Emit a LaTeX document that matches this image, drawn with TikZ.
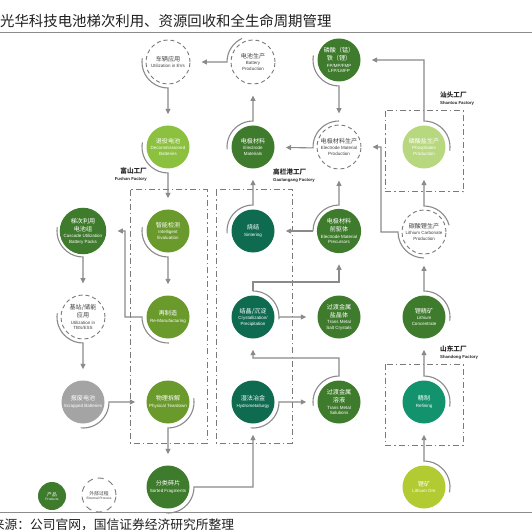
\documentclass[tikz,border=0pt]{standalone}
\usepackage{fontspec}
\setmainfont{Liberation Sans}
\newfontfamily\cjk{Noto Sans CJK SC}
\usetikzlibrary{arrows.meta,calc}
\definecolor{dg}{HTML}{3F7B2C}
\definecolor{ol}{HTML}{6B9A2C}
\definecolor{tl}{HTML}{0E6B50}
\definecolor{tr}{HTML}{12926D}
\definecolor{lg}{HTML}{8CC03F}
\definecolor{pg}{HTML}{B8D880}
\definecolor{yg}{HTML}{B3CB32}
\definecolor{gy}{HTML}{A4A4A4}
\definecolor{ln}{HTML}{8A8A8A}
\definecolor{dk}{HTML}{7A7A7A}
\newcommand{\zh}[1]{{\cjk\fontsize{6.1bp}{7bp}\selectfont #1}}
\newcommand{\en}[1]{{\fontsize{4.5bp}{5.6bp}\selectfont #1}}
\begin{document}
\begin{tikzpicture}[x=1bp,y=1bp,
  pn/.style={circle, fill=#1, text=white, minimum size=43bp, inner sep=0pt, align=center, font=\fontsize{4.5bp}{5.6bp}\selectfont},
  xn/.style={circle, draw=dk, line width=0.9bp, dash pattern=on 4bp off 3bp, fill=white, text=black!75, minimum size=44bp, inner sep=0pt, align=center, font=\fontsize{4.5bp}{5.6bp}\selectfont},
  fl/.style={draw=ln, line width=1.1bp, -{Triangle[length=5.5bp,width=5bp]}, shorten >=11bp},
  ar/.style={draw=ln, line width=1.1bp},
  fac/.style={draw=dk, line width=1bp, dash pattern=on 6bp off 3bp on 1.5bp off 3bp},
  flab/.style={inner sep=0pt, font=\fontsize{4.3bp}{6.2bp}\selectfont\bfseries, text=black!85}
]
\useasboundingbox (0,0) rectangle (532,-530);
\clip (0,0) rectangle (532,-530);
\fill[white] (0,0) rectangle (532,-530);

% title and rules
\node[anchor=west, inner sep=0pt, text=black!88] (title) at (0,-21) {\cjk\fontsize{14.4bp}{16bp}\selectfont 光华科技电池梯次利用、资源回收和全生命周期管理};
\draw[black!45, line width=0.8bp] (0,-32) -- (532,-32);
\draw[black!45, line width=0.8bp] (0,-512) -- (532,-512);
\node[anchor=west, inner sep=0pt, text=black!88] (src) at (-8.3,-525) {\cjk\fontsize{12.75bp}{14bp}\selectfont 来源：公司官网，国信证券经济研究所整理};

% factory boxes
\draw[fac] (130,-190) rectangle (207,-443);
\draw[fac] (216,-190) rectangle (292,-443);
\draw[fac] (385,-111) rectangle (463,-192);
\draw[fac] (385,-364) rectangle (463,-445);
\node[flab, anchor=north east, align=right] (lfs) at (147,-168) {{\cjk\fontsize{6.6bp}{7bp}\selectfont\bfseries 富山工厂}\\Fushan Factory};
\node[flab, anchor=north west, align=left] (lgl) at (273,-169) {{\cjk\fontsize{6.6bp}{7bp}\selectfont\bfseries 高栏港工厂}\\Gaolangang Factory};
\node[flab, anchor=north west, align=left] (lst) at (440,-92) {{\cjk\fontsize{6.6bp}{7bp}\selectfont\bfseries 汕头工厂}\\Shantou Factory};
\node[flab, anchor=north west, align=left] (lsd) at (440,-346) {{\cjk\fontsize{6.6bp}{7bp}\selectfont\bfseries 山东工厂}\\Shandong Factory};

% nodes
\node[xn] (veh) at (168,-62) {\zh{车辆应用}\\[0.8bp]Utilization in EVs};
\node[xn] (bat) at (253,-62) {\zh{电池生产}\\[0.8bp]Battery\\Production};
\node[pn=dg] (lfp) at (339,-60) {\zh{磷酸（锰）}\\[1.5bp]\zh{铁（锂）}\\[0.8bp]FP/MP/FMP\\LFP/LMFP};
\node[pn=lg] (ret) at (168,-147) {\zh{退役电池}\\[0.8bp]Decommissioned\\Batteries};
\node[pn=dg] (elm) at (253,-147) {\zh{电极材料}\\[0.8bp]Electrode\\Materials};
\node[xn] (emp) at (339,-147) {\zh{电极材料生产}\\[0.8bp]Electrode Material\\Production};
\node[pn=pg] (php) at (424,-147) {\zh{磷酸盐生产}\\[0.8bp]Phosphates\\Production};
\node[pn=dg] (cas) at (83,-231) {\zh{梯次利用}\\[1.5bp]\zh{电池组}\\[0.8bp]Cascade Utilization\\Battery Packs};
\node[pn=ol] (ie) at (168,-231) {\zh{智能检测}\\[0.8bp]Intelligent\\Evaluation};
\node[pn=tl] (sin) at (253,-231) {\zh{烧结}\\[0.8bp]Sintering};
\node[pn=dg] (pre) at (339,-231) {\zh{电极材料}\\[1.5bp]\zh{前驱体}\\[0.8bp]Electrode Material\\Precursors};
\node[xn] (lcp) at (424,-232) {\zh{碳酸锂生产}\\[0.8bp]Lithium Carbonate\\Production};
\node[xn] (tbs) at (83,-317) {\zh{基站/储能}\\[1.5bp]\zh{应用}\\[0.8bp]Utilization in\\TBS/ESS};
\node[pn=ol] (rem) at (168,-317) {\zh{再制造}\\[0.8bp]Re-Manufacturing};
\node[pn=tl] (cry) at (253,-317) {\zh{结晶/沉淀}\\[0.8bp]Crystallization/\\Precipitation};
\node[pn=dg] (tms) at (339,-317) {\zh{过渡金属}\\[1.5bp]\zh{盐晶体}\\[0.8bp]Trans Metal\\Salt Crystals};
\node[pn=dg] (lco) at (424,-317) {\zh{锂精矿}\\[0.8bp]Lithium\\Concentrate};
\node[pn=gy] (scr) at (83,-402) {\zh{报废电池}\\[0.8bp]Scrapped Batteries};
\node[pn=ol] (pht) at (168,-402) {\zh{物理拆解}\\[0.8bp]Physical Teardown};
\node[pn=tl] (hyd) at (253,-402) {\zh{湿法冶金}\\[0.8bp]Hydrometallurgy};
\node[pn=dg] (tmsol) at (339,-402) {\zh{过渡金属}\\[1.5bp]\zh{溶液}\\[0.8bp]Trans Metal\\Solutions};
\node[pn=tr] (ref) at (424,-402) {\zh{精制}\\[0.8bp]Refining};
\node[pn=dg] (sf) at (168,-487) {\zh{分类碎片}\\[0.8bp]Sorted Fragments};
\node[pn=yg] (ore) at (424,-487) {\zh{锂矿}\\[0.8bp]Lithium Ore};

% legend
\node[pn=dg, minimum size=28bp, font=\fontsize{3.3bp}{4bp}\selectfont] (lgp) at (52,-496) {{\cjk\fontsize{4.8bp}{5bp}\selectfont 产品}\\Products};
\node[xn, minimum size=34bp, dash pattern=on 6bp off 5bp, font=\fontsize{3.3bp}{4bp}\selectfont] (lgx) at (99,-495) {{\cjk\fontsize{4.8bp}{5bp}\selectfont 外部过程}\\External Process};

% connectors
\draw[fl] (bat.center) ++(115:26) arc[start angle=115,end angle=180,radius=26] -- (veh);
\draw[fl] (veh.center) ++(172:26) arc[start angle=172,end angle=270,radius=26] -- (ret);
\draw[fl] (elm.center) ++(185:26) arc[start angle=185,end angle=90,radius=26] -- (bat);
\draw[fl] (lfp.center) ++(170:26) arc[start angle=170,end angle=270,radius=26] -- (emp);
\draw[fl] (php.center) ++(-8:26) arc[start angle=-8,end angle=90,radius=26] |- (lfp);
\draw[fl] (emp.center) ++(90:26) arc[start angle=90,end angle=182,radius=26] -- (elm);
\draw[fl] (lcp.center) ++(15:26) arc[start angle=15,end angle=90,radius=26] -- (php);
\draw[fl] (lcp.center) ++(270:26) arc[start angle=270,end angle=180,radius=26] -- (381,-232) |- (emp);
\draw[fl] (lco.center) ++(-8:26) arc[start angle=-8,end angle=90,radius=26] -- (lcp);
\draw[fl] (ref.center) ++(-10:26) arc[start angle=-10,end angle=90,radius=26] -- (lco);
\draw[fl] (ore.center) ++(-12:26) arc[start angle=-12,end angle=90,radius=26] -- (ref);
\draw[fl] (ret.center) ++(170:26) arc[start angle=170,end angle=270,radius=26] -- (ie);
\draw[fl] (ie.center) ++(172:26) arc[start angle=172,end angle=270,radius=26] -- (rem);
\draw[fl] (rem.center) ++(272:26) arc[start angle=272,end angle=180,radius=26] -- (125,-317) |- (cas);
\draw[fl] (cas.center) ++(172:26) arc[start angle=172,end angle=270,radius=26] -- (tbs);
\draw[fl] (tbs.center) ++(172:26) arc[start angle=172,end angle=270,radius=26] -- (scr);
\draw[fl] (scr.center) ++(-95:26) arc[start angle=-95,end angle=0,radius=26] -- (pht);
\draw[fl] (pht.center) ++(8:26) arc[start angle=8,end angle=-90,radius=26] -- (sf);
\draw[fl] (sf.center) ++(-95:26) arc[start angle=-95,end angle=0,radius=26] -| (hyd);
\draw[fl] (hyd.center) ++(-95:26) arc[start angle=-95,end angle=0,radius=26] -- (tmsol);
\draw[fl] (tmsol.center) ++(188:26) arc[start angle=188,end angle=90,radius=26] -- (339,-358) -| (cry);
\draw[fl] (cry.center) ++(90:26) arc[start angle=90,end angle=-5,radius=26] -- ($(cry.center)+(26,0)$) -- (tms);
\draw[fl] (cry.center) ++(90:26) -- (253,-282) -| (pre);
\draw[fl] (pre.center) ++(180:26) arc[start angle=180,end angle=90,radius=26] -- (emp);
\draw[fl] (pre.center) ++(180:26) -- (sin);
\draw[fl] (sin.center) ++(185:26) arc[start angle=185,end angle=90,radius=26] -- (elm);
\end{tikzpicture}
\end{document}
